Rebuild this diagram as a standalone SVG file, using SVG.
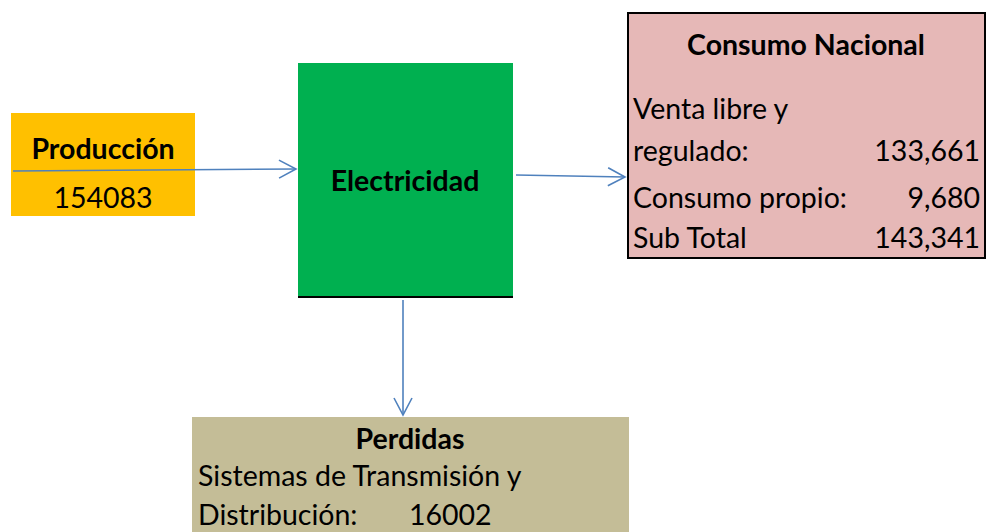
<svg xmlns="http://www.w3.org/2000/svg" width="986" height="532" viewBox="0 0 986 532">
<defs>
<style>
text{font-family:Lato,"Open Sans","Liberation Sans",sans-serif;fill:#000;font-size:28.5px}
.b{font-weight:bold}
.c{text-anchor:middle}
.r{text-anchor:end}
.conn{fill:none;stroke:#4F81BD;stroke-width:1.6}
</style>
<marker id="ah" viewBox="0 0 20 20" refX="18" refY="10" markerWidth="20" markerHeight="20" markerUnits="userSpaceOnUse" orient="auto">
<path d="M1,1 L18,10 L1,19" fill="none" stroke="#4F81BD" stroke-width="1.6"/>
</marker>
</defs>
<rect width="986" height="532" fill="#fff"/>
<g id="produccion">
<rect x="11" y="113" width="184" height="103" fill="#FFC000"/>
<text class="b c" x="103" y="159">Producción</text>
<text class="c" x="103" y="208">154083</text>
</g>
<g id="electricidad">
<rect x="298" y="63" width="215" height="234" fill="#00B050"/>
<line x1="298" y1="297" x2="513" y2="297" stroke="#000" stroke-width="2"/>
<text class="b c" x="405" y="191">Electricidad</text>
</g>
<g id="consumo">
<rect x="628" y="13" width="357" height="245" fill="#E6B8B7" stroke="#000" stroke-width="2"/>
<text class="b c" x="806" y="55">Consumo Nacional</text>
<text x="633" y="119">Venta libre y</text>
<text x="633" y="161">regulado:</text>
<text class="r" x="980" y="161">133,661</text>
<text x="633" y="208">Consumo propio:</text>
<text class="r" x="980" y="208">9,680</text>
<text x="633" y="248">Sub Total</text>
<text class="r" x="980" y="248">143,341</text>
</g>
<g id="perdidas">
<rect x="192" y="417" width="437" height="115" fill="#C4BD97"/>
<text class="b c" x="410" y="449">Perdidas</text>
<text x="198" y="486">Sistemas de Transmisión y</text>
<text x="198" y="525">Distribución:</text>
<text x="409" y="525">16002</text>
</g>
<g id="connectors">
<path class="conn" d="M13,171 L296,169" marker-end="url(#ah)"/>
<path class="conn" d="M516,175 L625,177" marker-end="url(#ah)"/>
<path class="conn" d="M403,300 L403,415" marker-end="url(#ah)"/>
</g>
</svg>
